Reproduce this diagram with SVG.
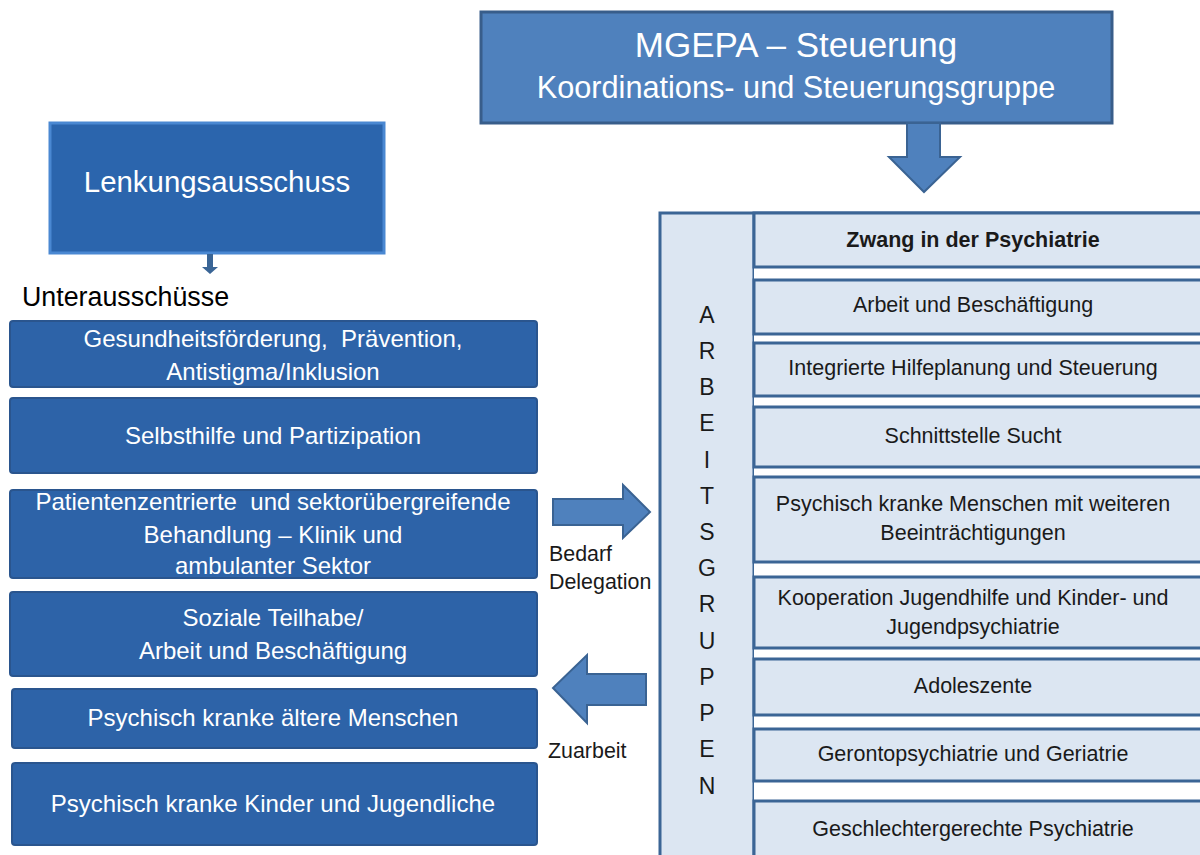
<svg xmlns="http://www.w3.org/2000/svg" width="1200" height="855" viewBox="0 0 1200 855">
<style>
text{font-family:"Liberation Sans",Arial,sans-serif}
.wt{fill:#ffffff;text-anchor:middle}
.lb{fill:#2d63a8;stroke:#2a558e;stroke-width:2}
.lt{font-size:24px}
.row{fill:#dce6f2;stroke:#3b6595;stroke-width:3}
.rt{font-size:21.5px;fill:#1a1a1a;text-anchor:middle}
.let{font-size:23px;fill:#1a1a1a;text-anchor:middle}
.arr{fill:#4f81bd;stroke:#3a6393;stroke-width:2;stroke-linejoin:miter}
.lab{font-size:21.4px;fill:#1a1a1a}
</style>
<rect width="1200" height="855" fill="#ffffff"/>

<g id="mgepa">
<rect x="481" y="12" width="631" height="111" fill="#4f81bd" stroke="#385d8a" stroke-width="3"/>
<text class="wt" x="796" y="57" font-size="35">MGEPA – Steuerung</text>
<text class="wt" x="796" y="98" font-size="30.7">Koordinations- und Steuerungsgruppe</text>
</g>

<g id="lenkungsausschuss">
<rect x="50" y="123" width="334" height="130" fill="#2b65ad" stroke="#4a88d2" stroke-width="3"/>
<text class="wt" x="217" y="192" font-size="29.4">Lenkungsausschuss</text>
</g>

<g id="unterausschuesse-label">
<text x="22" y="306" font-size="26.8" fill="#000000">Unterausschüsse</text>
</g>

<g id="ua1">
<rect class="lb" x="10" y="321" width="527" height="66" rx="3"/>
<text class="wt lt" x="273" y="347" xml:space="preserve">Gesundheitsförderung,  Prävention,</text>
<text class="wt lt" x="273" y="380">Antistigma/Inklusion</text>
</g>
<g id="ua2">
<rect class="lb" x="10" y="398" width="527" height="75" rx="3"/>
<text class="wt lt" x="273" y="444">Selbsthilfe und Partizipation</text>
</g>
<g id="ua3">
<rect class="lb" x="10" y="490" width="527" height="88" rx="3"/>
<text class="wt lt" x="273" y="510" xml:space="preserve">Patientenzentrierte  und sektorübergreifende</text>
<text class="wt lt" x="273" y="543">Behandlung – Klinik und</text>
<text class="wt lt" x="273" y="574">ambulanter Sektor</text>
</g>
<g id="ua4">
<rect class="lb" x="10" y="592" width="527" height="84" rx="3"/>
<text class="wt lt" x="273" y="626">Soziale Teilhabe/</text>
<text class="wt lt" x="273" y="659">Arbeit und Beschäftigung</text>
</g>
<g id="ua5">
<rect class="lb" x="12" y="689" width="525" height="59" rx="3"/>
<text class="wt lt" x="273" y="726">Psychisch kranke ältere Menschen</text>
</g>
<g id="ua6">
<rect class="lb" x="12" y="763" width="525" height="82" rx="3"/>
<text class="wt lt" x="273" y="812">Psychisch kranke Kinder und Jugendliche</text>
</g>

<g id="arbeitsgruppen">
<rect x="660" y="213" width="560" height="660" fill="#dce6f2" stroke="#3b6595" stroke-width="3"/>
<line x1="754" y1="213" x2="754" y2="860" stroke="#3b6595" stroke-width="3"/>
<text class="let" x="707" y="323">A</text>
<text class="let" x="707" y="359">R</text>
<text class="let" x="707" y="395">B</text>
<text class="let" x="707" y="431">E</text>
<text class="let" x="707" y="468">I</text>
<text class="let" x="707" y="504">T</text>
<text class="let" x="707" y="540">S</text>
<text class="let" x="707" y="576">G</text>
<text class="let" x="707" y="612">R</text>
<text class="let" x="707" y="649">U</text>
<text class="let" x="707" y="685">P</text>
<text class="let" x="707" y="721">P</text>
<text class="let" x="707" y="757">E</text>
<text class="let" x="707" y="794">N</text>
</g>

<g id="ag-rows">
<rect x="754" y="267" width="470" height="13" fill="#ffffff"/>
<rect x="754" y="334" width="470" height="9" fill="#ffffff"/>
<rect x="754" y="396" width="470" height="11" fill="#ffffff"/>
<rect x="754" y="467" width="470" height="10" fill="#ffffff"/>
<rect x="754" y="562" width="470" height="15" fill="#ffffff"/>
<rect x="754" y="648" width="470" height="11" fill="#ffffff"/>
<rect x="754" y="715" width="470" height="14" fill="#ffffff"/>
<rect x="754" y="781" width="470" height="20" fill="#ffffff"/>
</g>
<g id="ag1"><rect class="row" x="754" y="213" width="470" height="54"/><text class="rt" x="973" y="247" font-weight="bold" font-size="20.3">Zwang in der Psychiatrie</text></g>
<g id="ag2"><rect class="row" x="754" y="280" width="470" height="54"/><text class="rt" x="973" y="312">Arbeit und Beschäftigung</text></g>
<g id="ag3"><rect class="row" x="754" y="343" width="470" height="53"/><text class="rt" x="973" y="375">Integrierte Hilfeplanung und Steuerung</text></g>
<g id="ag4"><rect class="row" x="754" y="407" width="470" height="60"/><text class="rt" x="973" y="443">Schnittstelle Sucht</text></g>
<g id="ag5"><rect class="row" x="754" y="477" width="470" height="85"/><text class="rt" x="973" y="511">Psychisch kranke Menschen mit weiteren</text><text class="rt" x="973" y="540">Beeinträchtigungen</text></g>
<g id="ag6"><rect class="row" x="754" y="577" width="470" height="71"/><text class="rt" x="973" y="605">Kooperation Jugendhilfe und Kinder- und</text><text class="rt" x="973" y="634">Jugendpsychiatrie</text></g>
<g id="ag7"><rect class="row" x="754" y="659" width="470" height="56"/><text class="rt" x="973" y="693">Adoleszente</text></g>
<g id="ag8"><rect class="row" x="754" y="729" width="470" height="52"/><text class="rt" x="973" y="761">Gerontopsychiatrie und Geriatrie</text></g>
<g id="ag9"><rect class="row" x="754" y="801" width="470" height="70"/><text class="rt" x="973" y="836">Geschlechtergerechte Psychiatrie</text></g>

<g id="connectors">
<polygon class="arr" points="907,123 940,123 940,157 960,157 924,192 889,157 907,157"/>
<polygon points="207,254 213,254 213,267 218,267 210,274 202,267 207,267" fill="#3a6596"/>
<polygon class="arr" points="553,499 623,499 623,485 650,512 623,538 623,525 553,525"/>
<polygon class="arr" points="646,674 587,674 587,655 553,688 587,723 587,705 646,705"/>
<text class="lab" x="549" y="561">Bedarf</text>
<text class="lab" x="549" y="589">Delegation</text>
<text class="lab" x="548" y="758">Zuarbeit</text>
</g>
</svg>
